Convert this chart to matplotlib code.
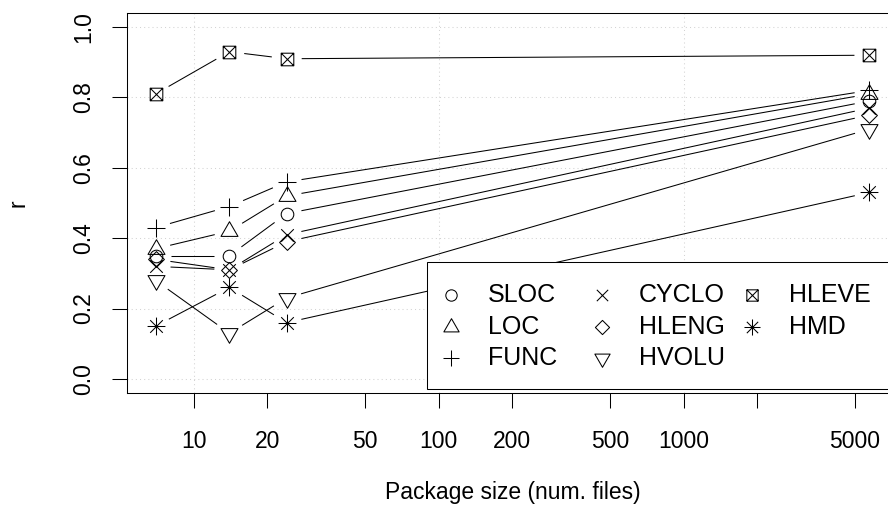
import matplotlib
matplotlib.use("Agg")
import matplotlib.pyplot as plt
import numpy as np
from matplotlib.lines import Line2D
from matplotlib.patches import Rectangle
from matplotlib.path import Path
from matplotlib.ticker import FixedLocator, NullLocator

plt.rcParams["font.family"] = ["Liberation Sans", "DejaVu Sans"]

# median package size (files) per bucket, and correlation r per metric
sizes = [7, 14, 24, 5730]
metrics = ["SLOC", "LOC", "FUNC", "CYCLO", "HLENG", "HVOLU", "HLEVE", "HMD"]
sloc = [0.35, 0.35, 0.47, 0.79]
loc = [0.37, 0.42, 0.52, 0.81]
func = [0.43, 0.49, 0.56, 0.82]
cyclo = [0.32, 0.31, 0.41, 0.77]
hleng = [0.34, 0.31, 0.39, 0.75]
hvolu = [0.28, 0.13, 0.23, 0.71]
hleve = [0.81, 0.93, 0.91, 0.92]
hmd = [0.15, 0.26, 0.16, 0.53]
series = [sloc, loc, func, cyclo, hleng, hvolu, hleve, hmd]

x_ticks = [10, 20, 50, 100, 200, 500, 1000, 2000, 5000]
x_tick_labels = ["10", "20", "50", "100", "200", "500", "1000", "", "5000"]
y_ticks = [0.0, 0.2, 0.4, 0.6, 0.8, 1.0]
y_tick_labels = ["0.0", "0.2", "0.4", "0.6", "0.8", "1.0"]
grid_x = [10, 100, 1000]

W, H, DPI = 888, 523, 100
LW = 0.75          # one device pixel
RAD = 6.3 * 72 / DPI   # symbol radius in points
GAP = 15           # px left free around each point (type="b")


# base-graphics style plotting symbols, in units of the symbol radius
def _poly(pts):
    verts = list(pts) + [pts[0]]
    codes = [Path.MOVETO] + [Path.LINETO] * (len(pts) - 1) + [Path.CLOSEPOLY]
    return verts, codes


def _segs(pairs):
    verts, codes = [], []
    for a, b in pairs:
        verts += [a, b]
        codes += [Path.MOVETO, Path.LINETO]
    return verts, codes


def _join(*parts):
    verts, codes = [], []
    for v, c in parts:
        verts += v
        codes += c
    return Path(verts, codes)


TRC0 = np.sqrt(4 * np.pi / (3 * np.sqrt(3)))
TRC1 = TRC0 * np.sqrt(3) / 2
TRC2 = TRC0 / 2
DMDC = 1.2533
S2 = np.sqrt(2)

plus = _segs([((-S2, 0), (S2, 0)), ((0, -S2), (0, S2))])
times = _segs([((-1, -1), (1, 1)), ((-1, 1), (1, -1))])
symbols = [
    Path.unit_circle(),
    _join(_poly([(0, TRC0), (TRC1, -TRC2), (-TRC1, -TRC2)])),
    _join(plus),
    _join(times),
    _join(_poly([(0, DMDC), (DMDC, 0), (0, -DMDC), (-DMDC, 0)])),
    _join(_poly([(0, -TRC0), (TRC1, TRC2), (-TRC1, TRC2)])),
    _join(_poly([(-1, -1), (1, -1), (1, 1), (-1, 1)]), times),
    _join(plus, times),
]


def marker_kw(path, scale=1.0):
    ms = 2 * np.max(np.abs(path.vertices)) * RAD * scale
    return dict(marker=path, markersize=ms, markerfacecolor="none",
                markeredgecolor="black", markeredgewidth=LW, linestyle="none")


def b_lines(ax, xs, ys):
    # connecting segments that stop short of each point
    pts = ax.transData.transform(np.column_stack([xs, ys]))
    inv = ax.transData.inverted()
    for p, q in zip(pts[:-1], pts[1:]):
        d = q - p
        n = np.hypot(*d)
        if n <= 2 * GAP:
            continue
        u = d / n
        seg = inv.transform([p + u * GAP, q - u * GAP])
        ax.plot(seg[:, 0], seg[:, 1], color="black", lw=LW,
                solid_capstyle="butt", zorder=3)


fig = plt.figure(figsize=(W / DPI, H / DPI), dpi=DPI)
ax = fig.add_axes([127 / W, 130 / H, 771 / W, 380 / H])
ax.set_xscale("log")

lx = np.log10(sizes)
pad = 0.04 * (lx.max() - lx.min())
ax.set_xlim(10 ** (lx.min() - pad), 10 ** (lx.max() + pad))
ax.set_ylim(-0.04, 1.04)
ax.set_autoscale_on(False)

for gx in grid_x:
    ax.axvline(gx, color="lightgray", lw=LW, linestyle=(0, (1, 3)), zorder=1)
for gy in y_ticks:
    ax.axhline(gy, color="lightgray", lw=LW, linestyle=(0, (1, 3)), zorder=1)

for ys, sym in zip(series, symbols):
    b_lines(ax, sizes, ys)
    ax.plot(sizes, ys, zorder=4, **marker_kw(sym))

ax.xaxis.set_major_locator(FixedLocator(x_ticks))
ax.xaxis.set_minor_locator(NullLocator())
ax.set_xticklabels(x_tick_labels)
ax.set_yticks(y_ticks)
ax.set_yticklabels(y_tick_labels, rotation=90, va="center")
ax.tick_params(length=10.8, width=LW, labelsize=16.5, color="black")
ax.tick_params(axis="x", pad=16)
ax.tick_params(axis="y", pad=12)
for sp in ax.spines.values():
    sp.set_linewidth(LW)

ax.set_xlabel("Package size (num. files)", fontsize=16.5, va="center")
ax.xaxis.set_label_coords(0.5, (393 - 493) / 380)
ax.set_ylabel("r", fontsize=16.5, va="center")
ax.yaxis.set_label_coords((18 - 127) / 771, 0.5)

# legend box, three columns of symbols and names
def fx(px):
    return px / W


def fy(py):
    return 1 - py / H


fig.add_artist(Rectangle((fx(427), fy(389)), fx(894) - fx(427), fy(262) - fy(389),
                         transform=fig.transFigure, facecolor="white",
                         edgecolor="black", lw=LW, zorder=5))
for i, (name, sym) in enumerate(zip(metrics, symbols)):
    col, row = divmod(i, 3)
    sx = 451 + 150.5 * col
    sy = 295 + 31.5 * row
    fig.add_artist(Line2D([fx(sx)], [fy(sy)], transform=fig.transFigure,
                          zorder=6, **marker_kw(sym, 0.9)))
    fig.text(fx(sx + 37), fy(sy), name, fontsize=18, va="center",
             ha="left", zorder=6)

fig.savefig("out.png", dpi=DPI)
